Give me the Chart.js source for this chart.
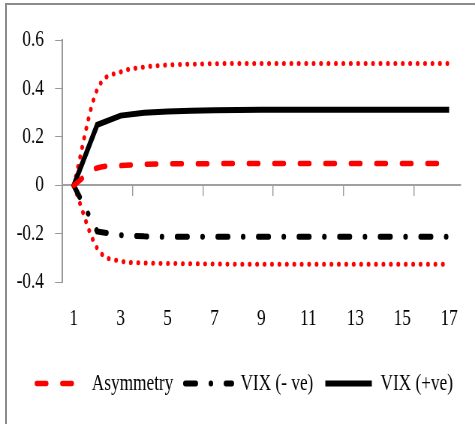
<!DOCTYPE html>
<html>
<head>
<meta charset="utf-8">
<script src="https://cdn.jsdelivr.net/npm/chart.js@4.4.0/dist/chart.umd.min.js"></script>
<style>
  html, body { margin: 0; padding: 0; background: #fff; overflow: hidden; }
  /* canvas drawn wide, then squeezed to get the narrow serif look */
  #wrap { position: absolute; left: 0; top: 0; width: 633px; height: 424px; transform: scaleX(0.7504); transform-origin: 0 0; }
  #frame { position: absolute; left: 5px; top: 3px; width: 470px; height: 421px; border-top: 2px solid #8c8c8c; border-left: 2px solid #8c8c8c; pointer-events: none; }
</style>
</head>
<body>
<div id="wrap"><canvas id="myChart" width="633" height="424"></canvas></div>
<div id="frame"></div>
<script>
var categories = ['1', '2', '3', '4', '5', '6', '7', '8', '9', '10', '11', '12', '13', '14', '15', '16', '17'];
var xTickLabels = ['1', '3', '5', '7', '9', '11', '13', '15', '17'];

var asymmetry = [0, 0.072, 0.082, 0.087, 0.089, 0.089, 0.09, 0.09, 0.09, 0.09, 0.09, 0.09, 0.09, 0.09, 0.09, 0.09, 0.09];
var vixNeg = [0, -0.19, -0.205, -0.21, -0.212, -0.212, -0.212, -0.212, -0.212, -0.212, -0.212, -0.212, -0.212, -0.212, -0.212, -0.212, -0.212];
var vixPos = [0, 0.25, 0.288, 0.3, 0.305, 0.308, 0.31, 0.311, 0.312, 0.312, 0.312, 0.312, 0.312, 0.312, 0.312, 0.312, 0.312];
var upperBand = [0, 0.395, 0.468, 0.488, 0.497, 0.5, 0.502, 0.503, 0.503, 0.503, 0.503, 0.503, 0.503, 0.503, 0.503, 0.503, 0.503];
var lowerBand = [0, -0.259, -0.312, -0.32, -0.322, -0.323, -0.324, -0.325, -0.325, -0.325, -0.325, -0.325, -0.325, -0.325, -0.325, -0.325, -0.325];

var serif = { family: "'Liberation Serif', 'Times New Roman', serif", size: 23 };

// nudge the legend row a little to the right
var legendShift = {
    id: 'legendShift',
    afterLayout: function (chart) {
        chart.legend.left += 6;
        chart.legend.right += 6;
        chart.legend.adjustHitBoxes();
    },
};

var ctx = document.getElementById('myChart').getContext('2d');

var chart = new Chart(ctx, {
    type: 'line',
    data: {
        labels: categories,
        datasets: [
            {
                label: 'Asymmetry',
                data: asymmetry,
                borderColor: '#ff0000',
                borderWidth: 5.5,
                borderDash: [13, 21],
                borderCapStyle: 'round',
                cubicInterpolationMode: 'monotone',
                pointRadius: 0,
            },
            {
                label: 'VIX (- ve)',
                data: vixNeg,
                borderColor: '#000000',
                borderWidth: 6,
                borderDash: [14, 20, 0.1, 20],
                borderCapStyle: 'round',
                pointRadius: 0,
            },
            {
                label: 'VIX (+ve)',
                data: vixPos,
                borderColor: '#000000',
                borderWidth: 6,
                pointRadius: 0,
            },
            {
                label: 'upper',
                data: upperBand,
                borderColor: '#ff0000',
                borderWidth: 5,
                borderDash: [0.1, 9.8],
                borderCapStyle: 'round',
                cubicInterpolationMode: 'monotone',
                pointRadius: 0,
            },
            {
                label: 'lower',
                data: lowerBand,
                borderColor: '#ff0000',
                borderWidth: 5,
                borderDash: [0.1, 9.8],
                borderCapStyle: 'round',
                cubicInterpolationMode: 'monotone',
                pointRadius: 0,
            },
        ],
    },
    plugins: [legendShift],
    options: {
        responsive: false,
        animation: false,
        layout: {
            padding: { left: 7.5, right: 0, top: 40, bottom: 19 },
        },
        plugins: {
            legend: {
                position: 'bottom',
                labels: {
                    // the two bands stay out of the legend
                    filter: function (item) {
                        return item.datasetIndex < 3;
                    },
                    // line samples keep the dataset's dash pattern
                    generateLabels: function (chart) {
                        var items = Chart.defaults.plugins.legend.labels.generateLabels(chart);
                        items.forEach(function (item) {
                            var ds = chart.data.datasets[item.datasetIndex];
                            item.pointStyle = 'line';
                            item.lineDash = ds.borderDash || [];
                            item.lineCap = ds.borderCapStyle || 'butt';
                            item.lineWidth = ds.borderWidth;
                        });
                        return items;
                    },
                    usePointStyle: true,
                    pointStyleWidth: 62,
                    padding: 16,
                    color: '#000000',
                    font: serif,
                },
            },
            tooltip: { enabled: false },
        },
        scales: {
            x: {
                position: 'bottom',
                offset: true,
                border: { display: false },
                grid: { display: false, drawTicks: false },
                ticks: {
                    autoSkip: false,
                    maxRotation: 0,
                    padding: 23,
                    color: '#000000',
                    font: serif,
                    callback: function (value, index) {
                        var label = categories[index];
                        return xTickLabels.indexOf(label) >= 0 ? label : '';
                    },
                },
            },
            // axis line crossing at zero, tick marks every third category
            zero: {
                type: 'category',
                axis: 'x',
                position: { y: 0 },
                offset: true,
                border: { color: '#a0a0a0', width: 2 },
                grid: {
                    offset: true,
                    drawOnChartArea: false,
                    drawTicks: true,
                    tickLength: 10,
                    lineWidth: 1.4,
                    color: function (c) {
                        var i = c.index;
                        return (i > 0 && i < categories.length && i % 3 === 0) ? '#999999' : 'rgba(0,0,0,0)';
                    },
                },
                ticks: { display: false },
            },
            y: {
                min: -0.4,
                max: 0.6,
                border: { color: '#999999', width: 2 },
                grid: { drawOnChartArea: false, tickLength: 9.3, color: '#999999' },
                ticks: {
                    stepSize: 0.2,
                    padding: 14.7,
                    color: '#000000',
                    font: serif,
                    callback: function (value) {
                        return String(Math.round(value * 10) / 10);
                    },
                },
            },
        },
    },
});
</script>
</body>
</html>
